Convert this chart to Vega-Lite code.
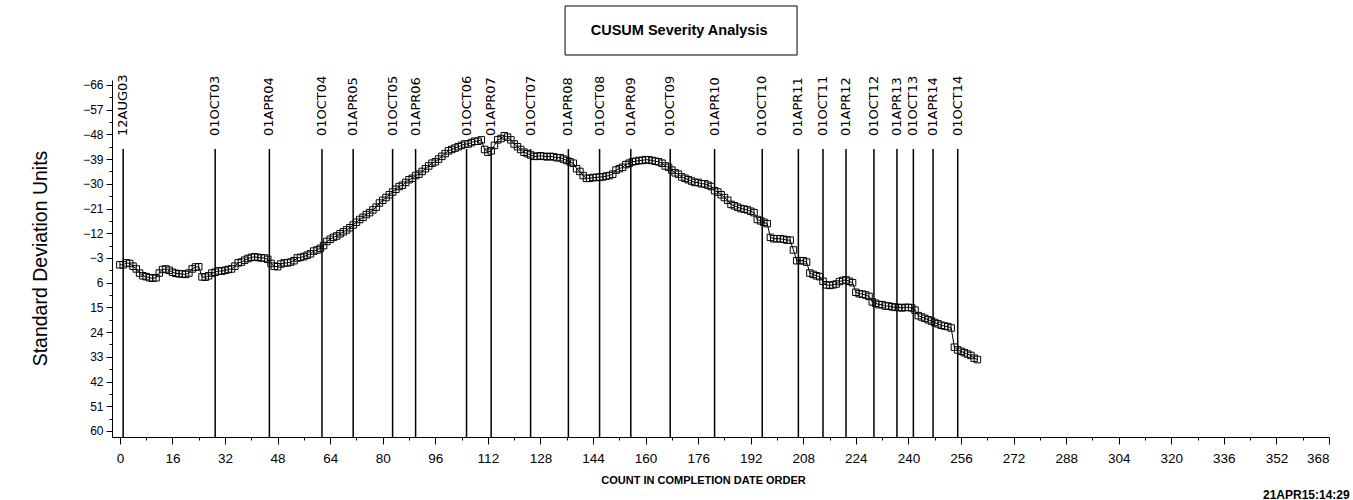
{
  "$schema": "https://vega.github.io/schema/vega-lite/v6.json",
  "autosize": "none",
  "width": 1217,
  "height": 357,
  "padding": {"left": 112, "top": 80, "right": 24, "bottom": 63},
  "background": "white",
  "config": {"view": {"stroke": null}, "axis": {"grid": false, "domainColor": "black", "tickColor": "black", "labelColor": "black", "titleColor": "black"}},
  "datasets": {
    "cusum": [
      {"n":0,"v":-0.5},{"n":1,"v":-0.5},{"n":2,"v":-1.2},{"n":3,"v":-1},{"n":4,"v":0},{"n":5,"v":1},{"n":6,"v":2.5},{"n":7,"v":3.5},{"n":8,"v":3.8},{"n":9,"v":4.2},
      {"n":10,"v":4.4},{"n":11,"v":4.2},{"n":12,"v":2.5},{"n":13,"v":1.2},{"n":14,"v":1},{"n":15,"v":1.5},{"n":16,"v":2.2},{"n":17,"v":2.6},{"n":18,"v":2.8},{"n":19,"v":2.8},
      {"n":20,"v":3},{"n":21,"v":2.5},{"n":22,"v":1},{"n":23,"v":0.3},{"n":24,"v":0.2},{"n":25,"v":3.9},{"n":26,"v":4},{"n":27,"v":3.5},{"n":28,"v":2.5},{"n":29,"v":2.2},
      {"n":30,"v":1.7},{"n":31,"v":1.8},{"n":32,"v":1.5},{"n":33,"v":1.2},{"n":34,"v":1},{"n":35,"v":0},{"n":36,"v":-1.2},{"n":37,"v":-1.5},{"n":38,"v":-2.2},{"n":39,"v":-2.8},
      {"n":40,"v":-3.2},{"n":41,"v":-3.4},{"n":42,"v":-3.2},{"n":43,"v":-3},{"n":44,"v":-3},{"n":45,"v":-2.5},{"n":46,"v":-1},{"n":47,"v":0},{"n":48,"v":0.2},{"n":49,"v":-0.8},
      {"n":50,"v":-1.2},{"n":51,"v":-1.2},{"n":52,"v":-1.5},{"n":53,"v":-2},{"n":54,"v":-3},{"n":55,"v":-3.2},{"n":56,"v":-3.5},{"n":57,"v":-4},{"n":58,"v":-4.5},{"n":59,"v":-5.5},
      {"n":60,"v":-5.9},{"n":61,"v":-6.5},{"n":62,"v":-7.5},{"n":63,"v":-9},{"n":64,"v":-9.8},{"n":65,"v":-10.5},{"n":66,"v":-11},{"n":67,"v":-11.8},{"n":68,"v":-12.5},{"n":69,"v":-13.2},
      {"n":70,"v":-14},{"n":71,"v":-15},{"n":72,"v":-16},{"n":73,"v":-17},{"n":74,"v":-17.8},{"n":75,"v":-18.8},{"n":76,"v":-19.5},{"n":77,"v":-20.5},{"n":78,"v":-21.5},{"n":79,"v":-23},
      {"n":80,"v":-24},{"n":81,"v":-25},{"n":82,"v":-26},{"n":83,"v":-27},{"n":84,"v":-28},{"n":85,"v":-29},{"n":86,"v":-29.5},{"n":87,"v":-30.5},{"n":88,"v":-31.5},{"n":89,"v":-32},
      {"n":90,"v":-33},{"n":91,"v":-33.5},{"n":92,"v":-34.5},{"n":93,"v":-35.5},{"n":94,"v":-36.5},{"n":95,"v":-37.5},{"n":96,"v":-38},{"n":97,"v":-39},{"n":98,"v":-40},{"n":99,"v":-41},
      {"n":100,"v":-42},{"n":101,"v":-42.5},{"n":102,"v":-43},{"n":103,"v":-43.5},{"n":104,"v":-44},{"n":105,"v":-44.5},{"n":106,"v":-44.5},{"n":107,"v":-45},{"n":108,"v":-45.5},{"n":109,"v":-45.5},
      {"n":110,"v":-46},{"n":111,"v":-42.5},{"n":112,"v":-41.5},{"n":113,"v":-42},{"n":114,"v":-44},{"n":115,"v":-46},{"n":116,"v":-46.5},{"n":117,"v":-47.5},{"n":118,"v":-47},{"n":119,"v":-46},
      {"n":120,"v":-44.5},{"n":121,"v":-43.5},{"n":122,"v":-42.5},{"n":123,"v":-41.5},{"n":124,"v":-41},{"n":125,"v":-40.5},{"n":126,"v":-40},{"n":127,"v":-40},{"n":128,"v":-40.2},{"n":129,"v":-40},
      {"n":130,"v":-39.8},{"n":131,"v":-40},{"n":132,"v":-39.8},{"n":133,"v":-39.5},{"n":134,"v":-39.5},{"n":135,"v":-39},{"n":136,"v":-38.5},{"n":137,"v":-38},{"n":138,"v":-37.5},{"n":139,"v":-35.5},
      {"n":140,"v":-34.5},{"n":141,"v":-33},{"n":142,"v":-32},{"n":143,"v":-32},{"n":144,"v":-32.3},{"n":145,"v":-32.3},{"n":146,"v":-32.5},{"n":147,"v":-32.5},{"n":148,"v":-32.8},{"n":149,"v":-33},
      {"n":150,"v":-33.5},{"n":151,"v":-35},{"n":152,"v":-35.5},{"n":153,"v":-36},{"n":154,"v":-37},{"n":155,"v":-37.5},{"n":156,"v":-38},{"n":157,"v":-38.2},{"n":158,"v":-38.5},{"n":159,"v":-38.5},
      {"n":160,"v":-38.8},{"n":161,"v":-38.7},{"n":162,"v":-38.5},{"n":163,"v":-38.2},{"n":164,"v":-38},{"n":165,"v":-37.5},{"n":166,"v":-36.5},{"n":167,"v":-36},{"n":168,"v":-35},{"n":169,"v":-34},
      {"n":170,"v":-33.5},{"n":171,"v":-32.5},{"n":172,"v":-32},{"n":173,"v":-31.5},{"n":174,"v":-31},{"n":175,"v":-30.5},{"n":176,"v":-30.5},{"n":177,"v":-30},{"n":178,"v":-30},{"n":179,"v":-29.5},
      {"n":180,"v":-29},{"n":181,"v":-27.5},{"n":182,"v":-27},{"n":183,"v":-26},{"n":184,"v":-25},{"n":185,"v":-24},{"n":186,"v":-22.5},{"n":187,"v":-22},{"n":188,"v":-21.5},{"n":189,"v":-21},
      {"n":190,"v":-20.8},{"n":191,"v":-20.5},{"n":192,"v":-20},{"n":193,"v":-19.5},{"n":194,"v":-17},{"n":195,"v":-16.5},{"n":196,"v":-16},{"n":197,"v":-15.5},{"n":198,"v":-10.5},{"n":199,"v":-10},
      {"n":200,"v":-10},{"n":201,"v":-10},{"n":202,"v":-9.8},{"n":203,"v":-9.5},{"n":204,"v":-9.5},{"n":205,"v":-5.9},{"n":206,"v":-2},{"n":207,"v":-2},{"n":208,"v":-2},{"n":209,"v":-1.5},
      {"n":210,"v":2.5},{"n":211,"v":3},{"n":212,"v":3.5},{"n":213,"v":3.8},{"n":214,"v":5.5},{"n":215,"v":6.8},{"n":216,"v":7},{"n":217,"v":6.8},{"n":218,"v":6.5},{"n":219,"v":5.6},
      {"n":220,"v":5.2},{"n":221,"v":5},{"n":222,"v":5.5},{"n":223,"v":6},{"n":224,"v":9.5},{"n":225,"v":10},{"n":226,"v":10.2},{"n":227,"v":10.5},{"n":228,"v":11},{"n":229,"v":13},
      {"n":230,"v":13.5},{"n":231,"v":14},{"n":232,"v":14},{"n":233,"v":14.5},{"n":234,"v":14.5},{"n":235,"v":14.8},{"n":236,"v":15},{"n":237,"v":15},{"n":238,"v":15.2},{"n":239,"v":15},
      {"n":240,"v":15},{"n":241,"v":15.2},{"n":242,"v":16},{"n":243,"v":18},{"n":244,"v":18.5},{"n":245,"v":19},{"n":246,"v":19.5},{"n":247,"v":20},{"n":248,"v":20.5},{"n":249,"v":21},
      {"n":250,"v":21.5},{"n":251,"v":21.8},{"n":252,"v":22},{"n":253,"v":22.5},{"n":254,"v":29.5},{"n":255,"v":30.5},{"n":256,"v":31},{"n":257,"v":31.5},{"n":258,"v":32},{"n":259,"v":32.5},
      {"n":260,"v":33.5},{"n":261,"v":34}
    ],
    "refs": [
      {"n":1,"label":"12AUG03"},{"n":29,"label":"01OCT03"},{"n":45.5,"label":"01APR04"},{"n":61.5,"label":"01OCT04"},
      {"n":71,"label":"01APR05"},{"n":83,"label":"01OCT05"},{"n":90,"label":"01APR06"},{"n":105.5,"label":"01OCT06"},
      {"n":113,"label":"01APR07"},{"n":125,"label":"01OCT07"},{"n":136.5,"label":"01APR08"},{"n":146,"label":"01OCT08"},
      {"n":155.5,"label":"01APR09"},{"n":167.5,"label":"01OCT09"},{"n":181,"label":"01APR10"},{"n":195.5,"label":"01OCT10"},
      {"n":206.5,"label":"01APR11"},{"n":214,"label":"01OCT11"},{"n":221,"label":"01APR12"},{"n":229.5,"label":"01OCT12"},
      {"n":236.5,"label":"01APR13"},{"n":241.5,"label":"01OCT13"},{"n":247.5,"label":"01APR14"},{"n":255,"label":"01OCT14"}
    ],
    "note": [{"title":"CUSUM Severity Analysis","stamp":"21APR15:14:29"}]
  },
  "resolve": {"axis": {"x": "independent", "y": "independent"}},
  "layer": [
    {
      "data": {"name": "refs"},
      "mark": {"type": "rule", "color": "black", "strokeWidth": 1.5},
      "encoding": {
        "x": {"field": "n", "type": "quantitative", "axis": {"orient": "bottom", "values": [8,24,40,56,72,88,104,120,136,152,168,184,200,216,232,248,264,280,296,312,328,344,360], "labels": false, "domain": false, "tickSize": 3, "title": null}},
        "y": {"datum": -42.7, "type": "quantitative", "axis": null},
        "y2": {"datum": 62.2}
      }
    },
    {
      "data": {"name": "refs"},
      "mark": {"type": "text", "angle": 270, "align": "left", "baseline": "middle", "font": "DejaVu Sans", "fontSize": 13, "color": "black"},
      "encoding": {
        "x": {"field": "n", "type": "quantitative", "axis": null},
        "y": {"datum": -47.4, "type": "quantitative", "axis": null},
        "text": {"field": "label"}
      }
    },
    {
      "data": {"name": "cusum"},
      "mark": {"type": "point", "opacity": 0},
      "encoding": {
        "x": {"field": "n", "type": "quantitative", "axis": null},
        "y": {"field": "v", "type": "quantitative", "axis": {"orient": "left", "values": [-61.5,-52.5,-43.5,-34.5,-25.5,-16.5,-7.5,1.5,10.5,19.5,28.5,37.5,46.5,55.5], "labels": false, "domain": false, "tickSize": 3, "title": null}}
      }
    },
    {
      "data": {"name": "cusum"},
      "mark": {"type": "line", "color": "black", "strokeWidth": 1, "point": {"shape": "square", "filled": false, "size": 42, "stroke": "black", "strokeWidth": 1, "fill": "transparent"}},
      "encoding": {
        "x": {"field": "n", "type": "quantitative", "scale": {"domain": [-2.4, 368], "nice": false, "zero": false},
          "axis": {"orient": "bottom", "values": [0,16,32,48,64,80,96,112,128,144,160,176,192,208,224,240,256,272,288,304,320,336,352,368], "tickSize": 7, "labelPadding": 7, "labelFont": "Liberation Sans", "labelFontSize": 13.5, "title": "COUNT IN COMPLETION DATE ORDER", "titleFont": "Liberation Sans", "titleFontSize": 11, "titleFontWeight": "bold", "titleX": 591, "titleY": 43, "titleBaseline": "middle", "titleAlign": "center"}},
        "y": {"field": "v", "type": "quantitative", "scale": {"domain": [-67.8, 62.2], "nice": false, "zero": false, "reverse": true},
          "axis": {"orient": "left", "values": [-66,-57,-48,-39,-30,-21,-12,-3,6,15,24,33,42,51,60], "tickSize": 6, "labelPadding": 3, "labelFont": "Liberation Sans", "labelFontSize": 12, "title": "Standard Deviation Units", "titleFont": "Liberation Sans", "titleFontSize": 19.5, "titleFontWeight": "normal", "titleX": -72, "titleY": 178, "titleAngle": 270, "titleBaseline": "middle", "titleAlign": "center"}}
      }
    },
    {
      "data": {"name": "note"},
      "mark": {"type": "rect", "fill": null, "fillOpacity": 0, "stroke": "black", "strokeWidth": 1},
      "encoding": {
        "x": {"datum": 135.5, "type": "quantitative", "axis": null},
        "x2": {"datum": 206.1},
        "y": {"datum": -94.75, "type": "quantitative", "axis": null},
        "y2": {"datum": -76.9}
      }
    },
    {
      "data": {"name": "note"},
      "mark": {"type": "text", "font": "Liberation Sans", "fontSize": 14.5, "fontWeight": "bold", "align": "center", "baseline": "middle", "color": "black"},
      "encoding": {
        "x": {"datum": 170.2, "type": "quantitative", "axis": null},
        "y": {"datum": -85.65, "type": "quantitative", "axis": null},
        "text": {"field": "title"}
      }
    },
    {
      "data": {"name": "note"},
      "mark": {"type": "text", "font": "Liberation Sans", "fontSize": 12, "fontWeight": "bold", "align": "left", "baseline": "middle", "color": "black"},
      "encoding": {
        "x": {"datum": 347.9, "type": "quantitative", "axis": null},
        "y": {"datum": 83.5, "type": "quantitative", "axis": null},
        "text": {"field": "stamp"}
      }
    }
  ]
}
